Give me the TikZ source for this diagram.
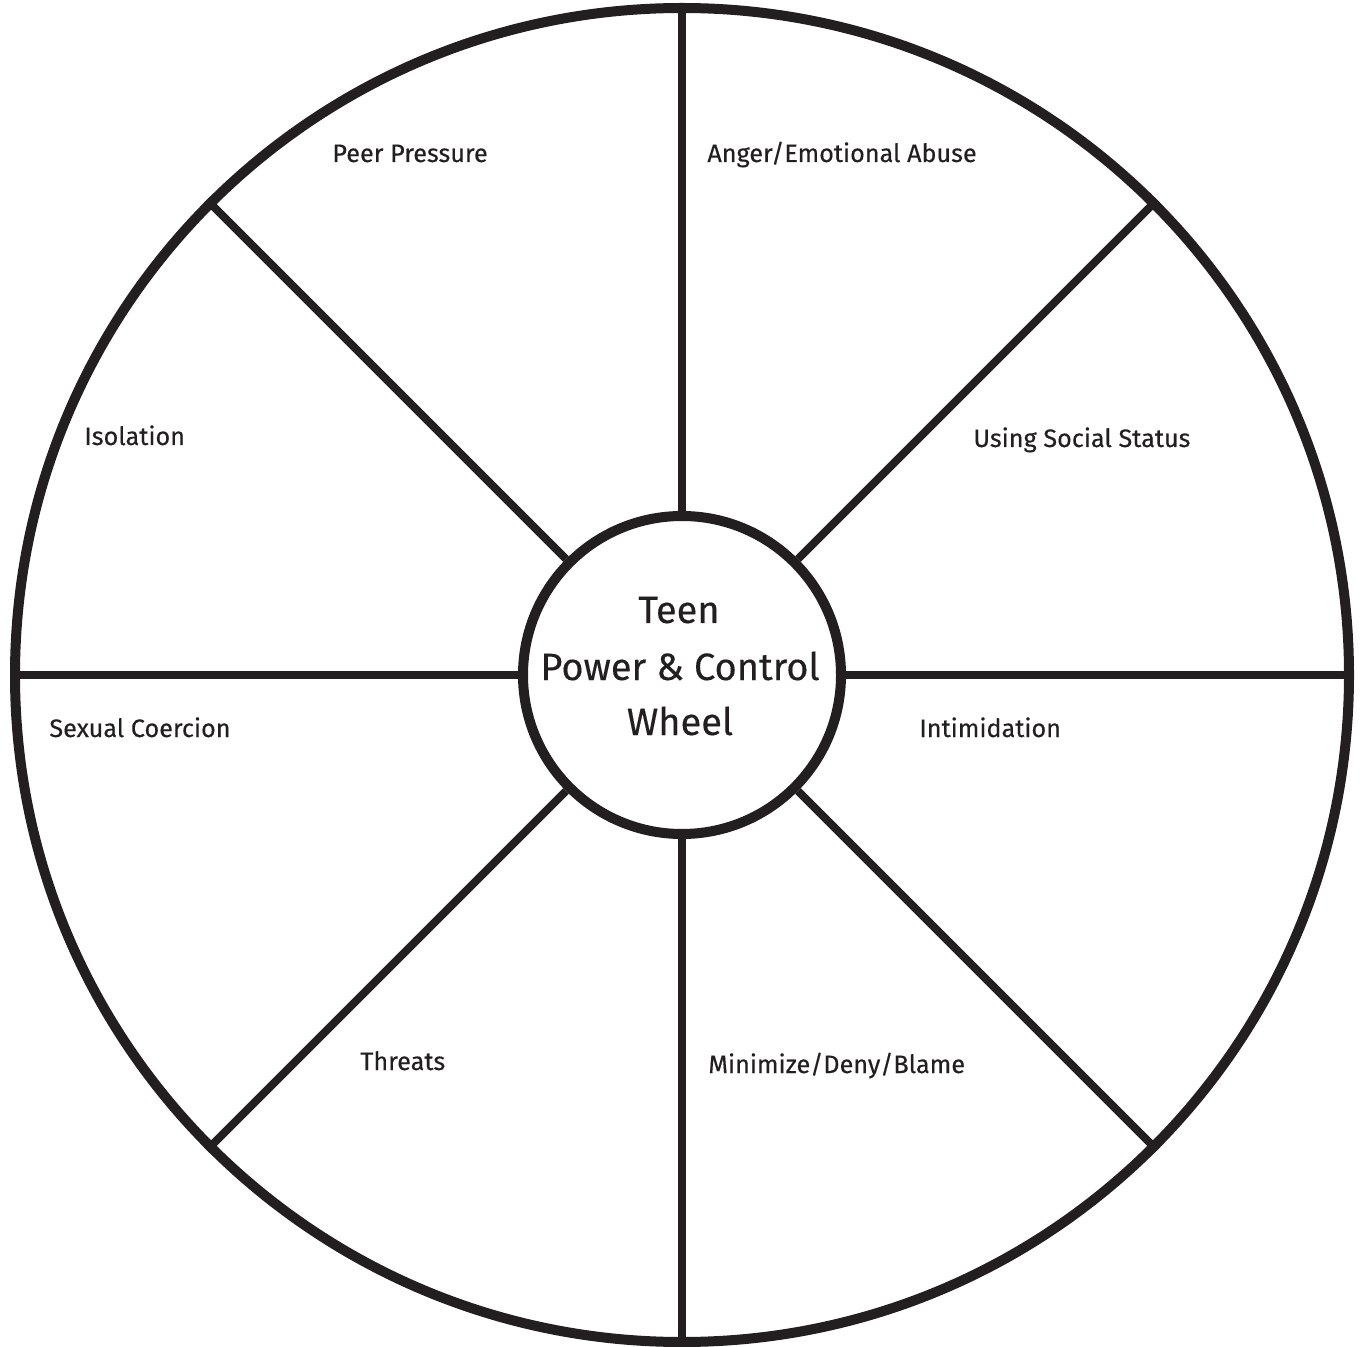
\documentclass[tikz,border=0pt]{standalone}
\usepackage{fontspec}
\setmainfont{Fira Sans}[FakeBold=0.35]
\definecolor{ink}{HTML}{231F20}
\begin{document}
\begin{tikzpicture}[x=0.5pt,y=-0.5pt,
  rimline/.style={draw=ink,line width=5pt},
  hubline/.style={draw=ink,line width=5pt,fill=white},
  spoke/.style={draw=ink,line width=4pt},
  lbl/.style={anchor=base west,inner sep=0pt,text=ink,font=\fontsize{12.6}{14}\selectfont},
  hubtxt/.style={anchor=base,inner sep=0pt,text=ink,font=\fontsize{19}{22}\selectfont}]
\useasboundingbox (0,0) rectangle (1360,1347);
\node[circle,rimline,minimum size=667pt,inner sep=0pt] (rim) at (682,675) {};
\node[circle,hubline,minimum size=159pt,inner sep=0pt] (hub) at (682,675) {};
\foreach \a in {0,45,...,315}{
  \draw[spoke] (hub.\a) -- (rim.\a);
}
\node[hubtxt] (t1) at (679,623) {Teen};
\node[hubtxt] (t2) at (680,680) {Power \& Control};
\node[hubtxt] (t3) at (680,735) {Wheel};
\node[lbl] (l1) at (332,162) {Peer Pressure};
\node[lbl] (l2) at (707,162) {Anger/Emotional Abuse};
\node[lbl] (l3) at (84,445) {Isolation};
\node[lbl] (l4) at (973,447) {Using Social Status};
\node[lbl] (l5) at (49,737) {Sexual Coercion};
\node[lbl] (l6) at (919,737) {Intimidation};
\node[lbl] (l7) at (360,1070) {Threats};
\node[lbl] (l8) at (708,1073) {Minimize/Deny/Blame};
\end{tikzpicture}
\end{document}
